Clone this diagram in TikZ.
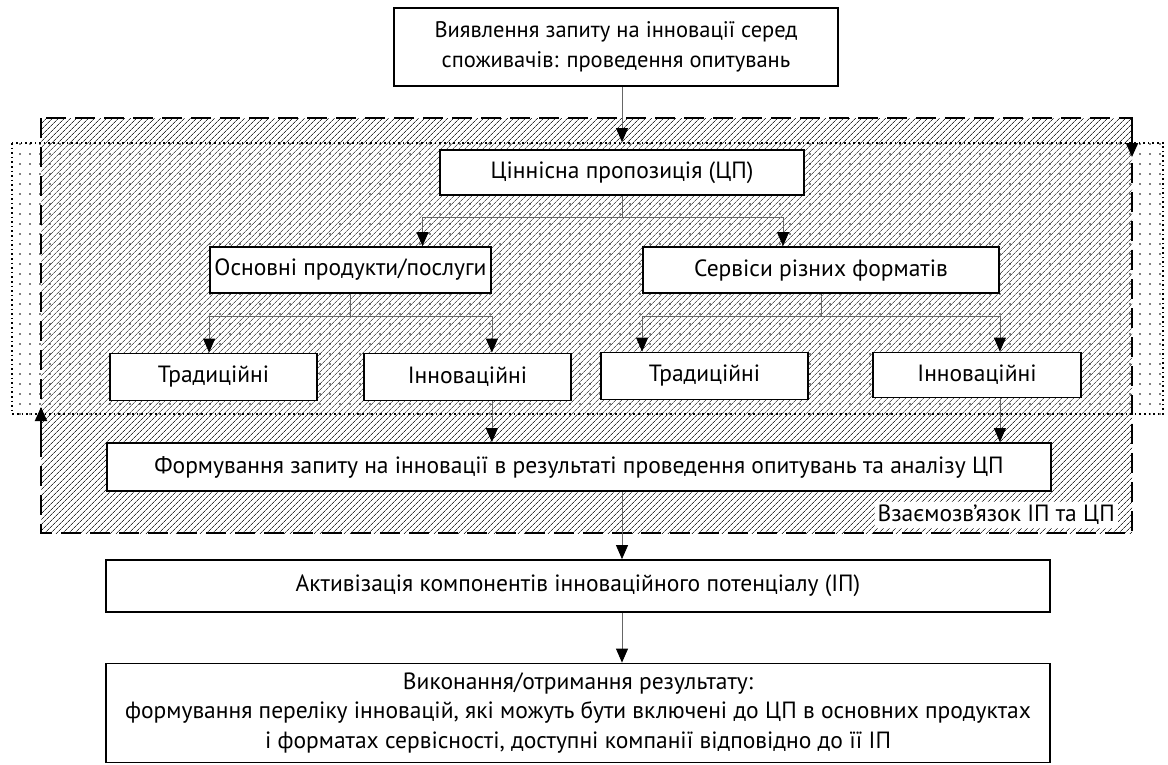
\documentclass[tikz,border=0pt]{standalone}
\usepackage{fontspec}
\setmainfont{PT Sans}
\usetikzlibrary{arrows.meta,patterns.meta}

\tikzset{
  blk/.style={draw,line width=1.8pt,fill=white,align=center,inner sep=0pt,font=\fontsize{23.5}{29.5}\selectfont},
  conn/.style={draw=black!60,line width=0.8pt},
  arr/.style={conn,-{Triangle[width=12pt,length=14pt,color=black]}},
  hatcharea/.style={pattern={Lines[angle=45,distance=4pt,line width=0.8pt]},pattern color=black!80},
  dotarea/.style={pattern={Dots[distance=10pt,radius=0.9pt]},pattern color=black},
}

\begin{document}
\begin{tikzpicture}[x=1pt,y=-1pt]
\useasboundingbox (0,0) rectangle (1168,764);
% areas
\fill[hatcharea] (41,118) rectangle (1132,533);
\fill[white,opacity=0.2] (12,143) rectangle (1163,414);
\fill[dotarea] (12,143) rectangle (1163,414);
\draw[line width=1.6pt,dash pattern=on 1.6pt off 3pt] (12,143) rectangle (1163,414);
\draw[line width=2pt,dash pattern=on 20pt off 9pt] (41,118) rectangle (1132,533);
\coordinate (la) at (41,407);
\coordinate (lb) at (41,440);
\coordinate (ra) at (1132,157);
\coordinate (rb) at (1132,125);
\draw[-{Triangle[width=12pt,length=14pt]},line width=2pt] (lb) -- (la);
\draw[-{Triangle[width=12pt,length=14pt]},line width=2pt] (rb) -- (ra);
\node[fill=white,inner sep=3pt,anchor=east,font=\fontsize{23.5}{29.5}\selectfont] (lnk) at (1118,515) {Взаємозв'язок ІП та ЦП};

\node[blk,minimum width=444pt,minimum height=78pt,font=\fontsize{22.5}{30}\selectfont] (q) at (616,47) {Виявлення запиту на інновації серед\\споживачів: проведення опитувань};
\node[blk,minimum width=364pt,minimum height=45pt] (cp) at (622,172.5) {Ціннісна пропозиція (ЦП)};
\node[blk,minimum width=281pt,minimum height=46pt] (osn) at (350.5,270) {Основні продукти/послуги};
\node[blk,minimum width=356pt,minimum height=46pt] (serv) at (821,270) {Сервіси різних форматів};
\node[blk,minimum width=207pt,minimum height=47pt] (t1) at (213.5,377) {Традиційні};
\node[blk,minimum width=207pt,minimum height=47pt] (i1) at (467.5,377) {Інноваційні};
\node[blk,minimum width=207pt,minimum height=47pt] (t2) at (704.5,376) {Традиційні};
\node[blk,minimum width=208pt,minimum height=45pt] (i2) at (977,375) {Інноваційні};
\node[blk,minimum width=944pt,minimum height=48pt] (form) at (579,467) {Формування запиту на інновації в результаті проведення опитувань та аналізу ЦП};
\node[blk,minimum width=944pt,minimum height=52pt] (act) at (578,586) {Активізація компонентів інноваційного потенціалу (ІП)};
\node[blk,minimum width=944pt,minimum height=99pt] (res) at (578,713) {Виконання/отримання результату:\\формування переліку інновацій, які можуть бути включені до ЦП в основних продуктах\\і форматах сервісності, доступні компанії відповідно до її ІП};

% connectors
\draw[arr] (q.south -| cp.north) -- ([yshift=7pt]cp.north);
\coordinate (cpb) at (622,217);
\draw[conn] (cp.south) -- (cpb);
\draw[arr] (cpb) -| ([xshift=72pt]osn.north);
\draw[arr] (cpb) -| ([xshift=-38pt]serv.north);
\coordinate (ob) at (350.5,316);
\draw[conn] (osn.south) -- (ob);
\draw[arr] (ob) -| (osn.west |- t1.north);
\draw[arr] (ob) -| (osn.east |- i1.north);
\coordinate (sb) at (821,316);
\draw[conn] (serv.south) -- (sb);
\draw[arr] (sb) -| (serv.west |- t2.north);
\draw[arr] (sb) -| (serv.east |- i2.north);
\draw[arr] (osn.east |- i1.south) -- (osn.east |- form.north);
\draw[arr] (serv.east |- i2.south) -- (serv.east |- form.north);
\draw[arr] (form.south -| cp.south) -- (act.north -| cp.south);
\draw[arr] (act.south -| cp.south) -- (res.north -| cp.south);
\end{tikzpicture}
\end{document}
